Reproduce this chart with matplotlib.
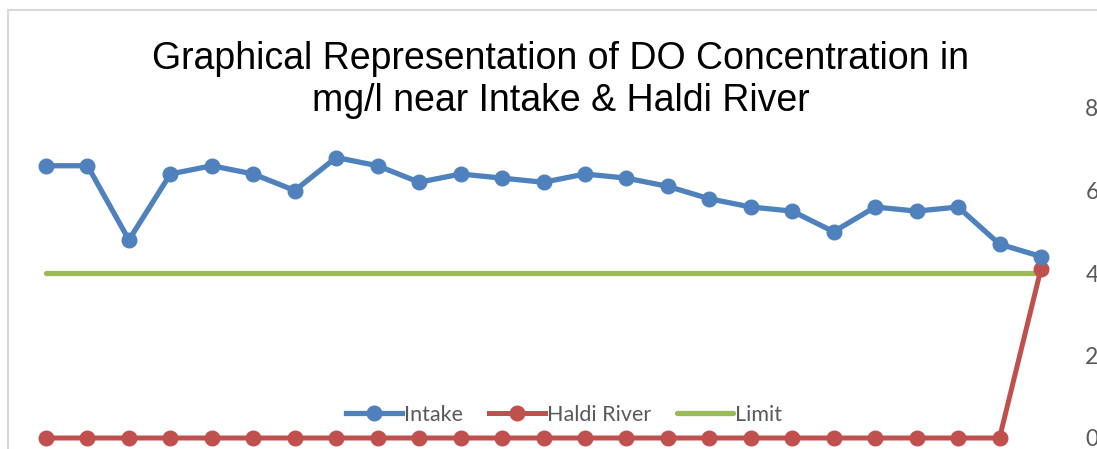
import numpy as np
import matplotlib.pyplot as plt
from matplotlib.patches import Rectangle

W, H = 1097, 449
DPI = 100

# sampling points (no labels shown on the chart)
samples = list(range(1, 26))
intake = [6.6, 6.6, 4.8, 6.4, 6.6, 6.4, 6.0, 6.8, 6.6, 6.2, 6.4, 6.3, 6.2,
          6.4, 6.3, 6.1, 5.8, 5.6, 5.5, 5.0, 5.6, 5.5, 5.6, 4.7, 4.4]
haldi = [0] * 24 + [4.1]
limit = [4] * 25
yticks = [0, 2, 4, 6, 8]

BLUE = '#4F81BD'
RED = '#C0504D'
GREEN = '#9BBB59'
GREY = '#595959'


def px(x0, y0, x1, y1):
    # pixel box (top-left origin) -> figure fractions
    return [x0 / W, 1 - y1 / H, (x1 - x0) / W, (y1 - y0) / H]


fig = plt.figure(figsize=(W / DPI, H / DPI), dpi=DPI)
fig.patch.set_facecolor('white')

# chart area border, cut off at right and bottom like the screenshot
fig.patches.append(Rectangle((8 / W, -0.1), 1.2, 1 - 10 / H + 0.1,
                             transform=fig.transFigure, fill=False,
                             edgecolor='#D9D9D9', lw=1.5))

ax = fig.add_axes(px(25.3, 108, 1061.7, 438))
x = np.arange(len(samples))
ax.plot(x, limit, color=GREEN, lw=3.8, solid_capstyle='round', label='Limit', zorder=2)
ax.plot(x, haldi, color=RED, lw=3.6, marker='o', ms=10.5, label='Haldi River',
        clip_on=False, zorder=3)
ax.plot(x, intake, color=BLUE, lw=3.8, marker='o', ms=10.5, label='Intake',
        clip_on=False, zorder=4)

ax.set_xlim(-0.5, len(samples) - 0.5)
ax.set_ylim(0, 8)
ax.set_xticks([])
ax.set_yticks(yticks)
ax.yaxis.tick_right()
ax.tick_params(axis='y', length=0, pad=17, labelsize=16.5, labelcolor=GREY)
for lbl in ax.get_yticklabels():
    lbl.set_fontfamily('Lato')
for s in ax.spines.values():
    s.set_visible(False)

h, l = ax.get_legend_handles_labels()
order = [2, 1, 0]
leg = ax.legend([h[i] for i in order], [l[i] for i in order],
                loc='center', bbox_to_anchor=(0.52, 0.07), ncol=3, frameon=False,
                handlelength=2.6, handletextpad=0.1, columnspacing=1.2,
                prop={'family': 'Lato', 'size': 15.5})
for t in leg.get_texts():
    t.set_color(GREY)

fig.text(561 / W, 1 - 80 / H,
         'Graphical Representation of DO Concentration in\nmg/l near Intake & Haldi River',
         ha='center', va='center', fontsize=27, family='Liberation Sans',
         color='black', linespacing=1.2)

fig.savefig('out.png', dpi=DPI)
